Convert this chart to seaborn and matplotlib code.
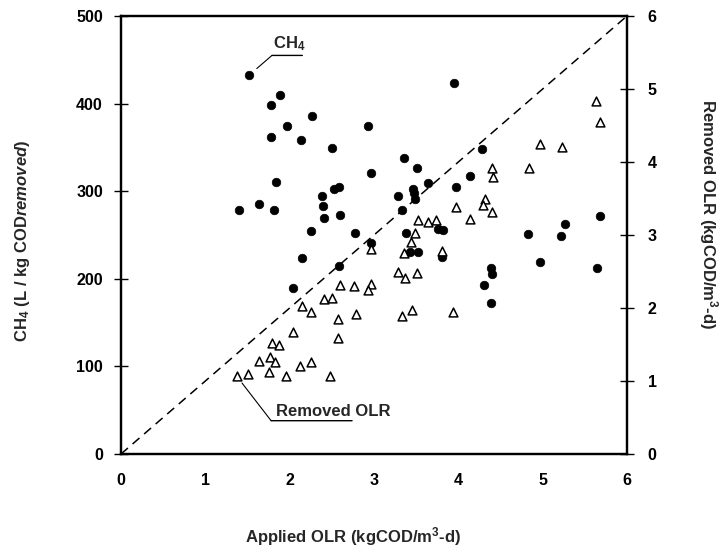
import matplotlib
matplotlib.use("Agg")
import matplotlib.pyplot as plt
import seaborn as sns
import pandas as pd

# ---- data ----
ch4_x = [1.52, 1.88, 1.78, 2.26, 1.97, 2.93, 1.78, 2.13, 2.50, 3.36, 3.51, 2.96,
         1.84, 2.52, 2.58, 3.46, 3.47, 3.49, 2.38, 3.29, 2.40, 1.40, 1.64, 1.81,
         3.33, 2.41, 2.60, 2.25, 2.78, 3.38, 2.97, 2.15, 2.59, 2.04, 3.43, 3.52,
         3.95, 4.28, 4.14, 3.64, 3.97, 3.76, 3.82, 4.83, 5.22, 5.27, 5.68, 3.81,
         4.97, 5.64, 4.39, 4.40, 4.31, 4.39]
ch4_y = [433, 410, 398, 386, 375, 375, 362, 358, 349, 338, 326, 321,
         311, 303, 305, 303, 298, 291, 294, 294, 283, 278, 285, 279,
         279, 269, 273, 255, 252, 252, 241, 224, 215, 189, 231, 231,
         424, 348, 317, 309, 305, 257, 256, 251, 249, 262, 272, 225,
         219, 212, 212, 206, 193, 172]

olr_x = [1.38, 1.50, 1.76, 1.96, 2.48, 1.64, 1.77, 1.83, 2.12, 2.25,
         1.79, 1.87, 2.04, 2.57, 2.57, 2.79, 3.33, 3.45, 2.25, 2.15,
         2.41, 2.50, 2.60, 2.76, 2.96, 2.93, 3.29, 3.37, 3.51, 2.97,
         3.35, 3.44, 3.49, 3.94, 3.81, 5.63, 5.68, 4.97, 5.23, 4.84,
         4.40, 4.41, 3.97, 4.32, 4.29, 4.40, 4.14, 3.52, 3.64, 3.74]
olr_y = [1.075, 1.094, 1.13, 1.075, 1.075, 1.28, 1.33, 1.26, 1.20, 1.26,
         1.52, 1.49, 1.67, 1.59, 1.85, 1.92, 1.89, 1.97, 1.94, 2.03,
         2.13, 2.14, 2.31, 2.30, 2.33, 2.25, 2.49, 2.41, 2.48, 2.81,
         2.76, 2.90, 3.03, 1.95, 2.78, 4.84, 4.55, 4.24, 4.21, 3.92,
         3.92, 3.79, 3.38, 3.50, 3.41, 3.31, 3.22, 3.21, 3.18, 3.21]

diag_x = [0, 6]
diag_y = [0, 6]

x_ticks = [0, 1, 2, 3, 4, 5, 6]
left_ticks = [0, 100, 200, 300, 400, 500]
right_ticks = [0, 1, 2, 3, 4, 5, 6]

ch4_df = pd.DataFrame({"x": ch4_x, "y": ch4_y})
olr_df = pd.DataFrame({"x": olr_x, "y": olr_y})
diag_df = pd.DataFrame({"x": diag_x, "y": diag_y})

sns.set_theme(style="white")
plt.rcParams["font.family"] = ["Liberation Sans", "DejaVu Sans"]
plt.rcParams["mathtext.fontset"] = "custom"
plt.rcParams["mathtext.rm"] = "Liberation Sans:bold"
plt.rcParams["mathtext.bf"] = "Liberation Sans:bold"
plt.rcParams["mathtext.it"] = "Liberation Sans:italic:bold"

fig = plt.figure(figsize=(7.22, 5.48), dpi=100)
ax = fig.add_axes([121 / 722, 94 / 548, 506 / 722, 438 / 548])
ax2 = ax.twinx()

sns.scatterplot(data=ch4_df, x="x", y="y", ax=ax, marker="o", s=38,
                color="black", edgecolor="black", linewidth=0.5, legend=False, zorder=3)
sns.scatterplot(data=olr_df, x="x", y="y", ax=ax2, marker="^", s=40,
                facecolor="white", edgecolor="black", linewidth=1.1, legend=False, zorder=3)
sns.lineplot(data=diag_df, x="x", y="y", ax=ax2, color="black", linewidth=1.1,
             linestyle=(0, (6, 4)), zorder=2)

ax.set_xlim(0, 6)
ax.set_ylim(0, 500)
ax2.set_ylim(0, 6)
ax.set_xticks(x_ticks)
ax.set_yticks(left_ticks)
ax2.set_yticks(right_ticks)
ax.set_xticklabels([str(v) for v in x_ticks], fontsize=11.5, fontweight="bold")
ax.set_yticklabels([str(v) for v in left_ticks], fontsize=11.5, fontweight="bold")
ax2.set_yticklabels([str(v) for v in right_ticks], fontsize=11.5, fontweight="bold")

ax.tick_params(axis="y", direction="inout", length=10, width=1.0, pad=8, colors="black")
ax.tick_params(axis="x", direction="inout", length=6, width=0.8, pad=11, colors="black")
ax2.tick_params(axis="y", direction="inout", length=10, width=1.0, pad=10, colors="black")

for a in (ax, ax2):
    for sp in a.spines.values():
        sp.set_visible(True)
        sp.set_linewidth(1.6)
        sp.set_color("black")
    a.grid(False)

ax.set_xlabel("Applied OLR (kgCOD/m$^{3}$-d)", fontsize=12, fontweight="bold")
ax.xaxis.set_label_coords(0.458, -0.163)
ax.set_ylabel("CH$_4$ (L / kg COD$\\it{removed}$)", fontsize=12, fontweight="bold")
ax.yaxis.set_label_coords(-0.176, 0.486)
ax2.set_ylabel("Removed OLR (kgCOD/m$^{3}$-d)", fontsize=12, fontweight="bold",
               rotation=270, va="center")
ax2.yaxis.set_label_coords(1.160, 0.548)

# annotation: CH4
ax.annotate("", xy=(1.61, 440), xytext=(1.79, 455),
            arrowprops=dict(arrowstyle="-", color="black", lw=0.8, shrinkA=0, shrinkB=0))
ax.annotate("", xy=(1.79, 455), xytext=(2.15, 455),
            arrowprops=dict(arrowstyle="-", color="black", lw=1.0, shrinkA=0, shrinkB=0))
ax.text(1.80, 458, "CH$_4$", fontsize=12, fontweight="bold", ha="left", va="bottom")

# annotation: Removed OLR
ax.annotate("", xy=(1.435, 81), xytext=(1.78, 38),
            arrowprops=dict(arrowstyle="-", color="black", lw=0.8, shrinkA=0, shrinkB=0))
ax.annotate("", xy=(1.78, 38), xytext=(2.74, 38),
            arrowprops=dict(arrowstyle="-", color="black", lw=1.0, shrinkA=0, shrinkB=0))
ax.text(1.84, 40, "Removed OLR", fontsize=12, fontweight="bold", ha="left", va="bottom")

fig.savefig("out.png", dpi=100)
